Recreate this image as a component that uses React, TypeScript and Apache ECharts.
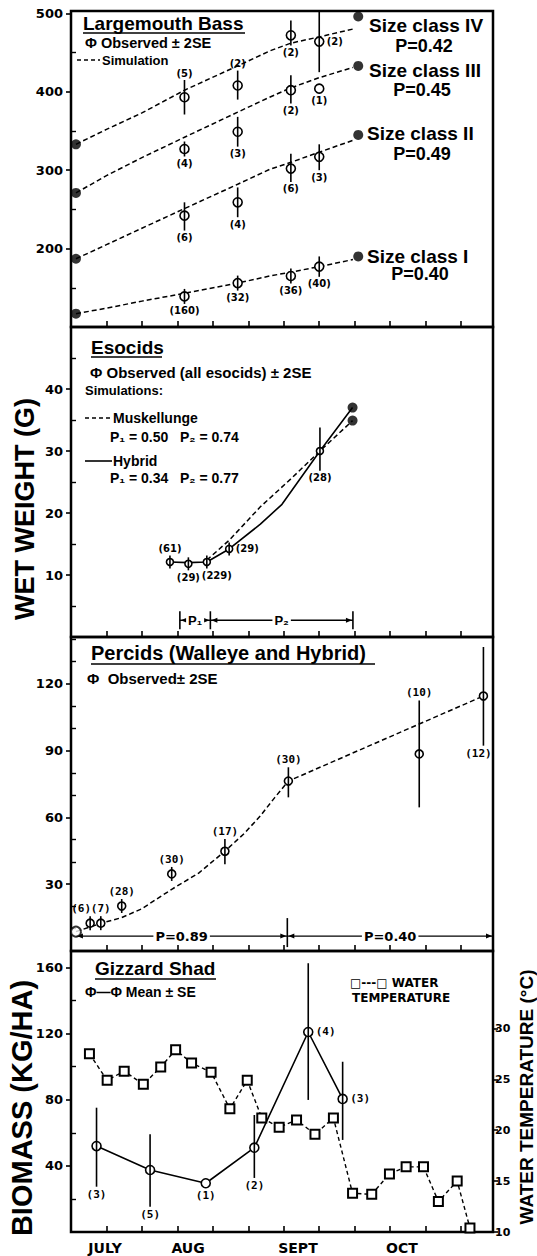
import React, { useEffect, useRef } from 'react';
import * as echarts from 'echarts';

// ---------- shared x axis (days from late June) ----------
const dayTicks = [10, 20, 30, 40, 50, 60, 70, 80, 90, 100, 110];
const monthPositions = [9.6, 33, 64, 93.3];
const monthLabels = ['JULY', 'AUG', 'SEPT', 'OCT'];

// ---------- Panel 1: Largemouth Bass ----------
const bassTicks = [200, 300, 400, 500];
const bassMinorTicks = [150, 250, 350, 450];
const bassDays = [32, 47, 62, 70];
const bassIVMean = [393, 408, 472, 464];
const bassIVLow = [371, 390, 459, 425];
const bassIVHigh = [415, 427, 491, 503];
const bassIVN = ['(5)', '(2)', '(2)', '(2)'];
const bassIIIMean = [327, 349, 402, 404];
const bassIIILow = [321, 330, 385, null];
const bassIIIHigh = [333, 368, 421, null];
const bassIIIN = ['(4)', '(3)', '(2)', '(1)'];
const bassIIMean = [242, 259, 302, 317];
const bassIILow = [223, 240, 285, 300];
const bassIIHigh = [259, 278, 321, 333];
const bassIIN = ['(6)', '(4)', '(6)', '(3)'];
const bassIMean = [139, 156, 165, 177];
const bassILow = [136, 149, 158, 164];
const bassIHigh = [142, 163, 172, 190];
const bassIN = ['(160)', '(32)', '(36)', '(40)'];

const simDays = [1.4, 10, 20, 32, 47, 56, 62, 70, 79.5];
const simIV = [333, 352, 373, 402, 433, 452, 462, 470, 480];
const simIII = [271, 293, 316, 342, 374, 393, 405, 418, 431];
const simII = [187, 205, 226, 251, 282, 301, 310, 323, 338];
const simI = [117, 124, 133, 143, 156, 165, 170, 177, 186];
const simEndDay = 81;
const simEnd = [496, 433, 345, 190];
const sizeClassNames = ['Size class IV', 'Size class III', 'Size class II', 'Size class I'];
const sizeClassP = ['P=0.42', 'P=0.45', 'P=0.49', 'P=0.40'];

// ---------- Panel 2: Esocids ----------
const esoTicks = [10, 20, 30, 40];
const esoMinorTicks = [5, 15, 25, 35, 45];
const esoDays = [27.9, 33.1, 38.3, 44.6, 70.2];
const esoMean = [12.1, 11.8, 12.1, 14.2, 30.0];
const esoLow = [11.4, 11.0, 11.5, 13.5, 26.8];
const esoHigh = [12.8, 12.6, 12.7, 14.9, 33.8];
const esoN = ['(61)', '(29)', '(229)', '(29)', '(28)'];
const hybridDays = [28, 33, 38.3, 44.6, 53.4, 59.5, 70.2, 79.4];
const hybridSim = [12.1, 12.0, 12.1, 14.2, 18.2, 21.4, 30.0, 37.0];
const muskyDays = [38.3, 44.6, 53.4, 62, 70.2, 79.4];
const muskySim = [12.4, 15.6, 21.0, 25.5, 30.0, 34.9];
const esoPeriods = [30.7, 39.3, 79.5];
const esoPeriodLabels = ['P₁', 'P₂'];
const esoPeriodLevel = 2.7;

// ---------- Panel 3: Percids ----------
const percTicks = [30, 60, 90, 120];
const percMinorTicks = [10, 20, 40, 50, 70, 80, 100, 110, 130, 140];
const percDays = [5.4, 8.4, 14.3, 28.4, 43.4, 61.3, 98.2, 116.3];
const percMean = [12.5, 12.5, 20.2, 34.6, 44.8, 76.3, 88.5, 114.5];
const percLow = [11, 11, 19, 33.5, 39, 69, 64.5, 92.2];
const percHigh = [14, 14, 21.5, 35.7, 50.3, 82.5, 112.5, 136.5];
const percN = ['(6)', '(7)', '(28)', '(30)', '(17)', '(30)', '(10)', '(12)'];
const percSimDays = [1.4, 8.4, 14.3, 20, 28.4, 36, 43.4, 49, 53.4, 57.5, 61.3, 116.3];
const percSim = [8.7, 12.4, 15, 19, 27.7, 35, 44.8, 53, 60.7, 69, 76.3, 114.5];
const percPeriods = [1.4, 61.0, 119];
const percPeriodLabels = ['P=0.89', 'P=0.40'];
const percPeriodLevel = 6.7;

// ---------- Panel 4: Gizzard Shad ----------
const shadTicks = [40, 80, 120, 160];
const shadMinorTicks = [20, 60, 100, 140];
const tempTicks = [10, 15, 20, 25, 30];
const shadDays = [7.2, 22.3, 38.0, 51.7, 66.9, 76.6];
const shadMean = [52, 37.5, 29.5, 51, 121, 80.5];
const shadLow = [27.4, 15.3, null, 32.7, 79.9, 55.7];
const shadHigh = [75.2, 59.1, null, 70.8, 162.6, 103];
const shadN = ['(3)', '(5)', '(1)', '(2)', '(4)', '(3)'];
const tempDays = [5.2, 10.2, 15.0, 20.4, 25.3, 29.5, 34.0, 39.5, 44.8, 49.7, 53.8, 58.7, 63.6, 68.8, 74.0, 79.4, 84.8, 89.8, 94.5, 99.4, 103.6, 108.9, 112.5];
const tempC = [27.5, 24.9, 25.8, 24.5, 26.2, 27.9, 26.6, 25.7, 22.1, 24.9, 21.2, 20.3, 21.0, 19.6, 21.2, 13.8, 13.7, 15.7, 16.4, 16.4, 13.0, 15.0, 10.4];

// ---------- helpers ----------
const SANS = '"Liberation Sans", Arial, "DejaVu Sans", sans-serif';
const DV = '"DejaVu Sans", sans-serif';
const MONO = '"DejaVu Sans Mono", monospace';

const zip = (xs: number[], ys: number[]) => xs.map((x, i) => [x, ys[i]]);

function glyphs(xi: number, yi: number, days: number[], mean: number[], low: (number | null)[], high: (number | null)[], counts: string[], places: string[], r: number, countFont: string) {
  const data = days.map((d, i) => [d, mean[i], low[i] ?? mean[i], high[i] ?? mean[i], low[i] == null ? 0 : 1]);
  return {
    type: 'custom', xAxisIndex: xi, yAxisIndex: yi, z: 6, data,
    renderItem: (params: any, api: any) => {
      const i = params.dataIndex;
      const p = api.coord([api.value(0), api.value(1)]);
      const lo = api.coord([api.value(0), api.value(2)]);
      const hi = api.coord([api.value(0), api.value(3)]);
      const hasBar = api.value(4) === 1;
      const yTop = hasBar ? Math.min(hi[1], p[1] - r - 3) : p[1] - r;
      const yBot = hasBar ? Math.max(lo[1], p[1] + r + 3) : p[1] + r;
      const children: any[] = [
        { type: 'circle', shape: { cx: p[0], cy: p[1], r }, style: { fill: '#fff', stroke: '#000', lineWidth: 1.6 } },
      ];
      if (hasBar) children.push({ type: 'line', shape: { x1: p[0], y1: yTop, x2: p[0], y2: yBot }, style: { stroke: '#000', lineWidth: 1.6 } });
      const pl = places[i];
      let tx = p[0], ty = p[1], align = 'center', va = 'middle';
      if (pl === 'a' || pl === 'al') { ty = yTop - 2; va = 'bottom'; if (pl === 'al') tx -= 9; }
      else if (pl === 'b' || pl === 'bl' || pl === 'br') { ty = yBot + 2; va = 'top'; if (pl === 'bl') tx -= 5; if (pl === 'br') tx += 10; }
      else if (pl === 'r') { tx = p[0] + r + 3; align = 'left'; }
      children.push({ type: 'text', x: tx, y: ty, style: { text: counts[i], align, verticalAlign: va, textAlign: align, textVerticalAlign: va, font: countFont, fill: '#000' } });
      return { type: 'group', children };
    },
  };
}

function brackets(xi: number, yi: number, bounds: number[], level: number, labels: string[], font: string) {
  const data = labels.map((_, i) => [bounds[i], bounds[i + 1], level]);
  return {
    type: 'custom', xAxisIndex: xi, yAxisIndex: yi, z: 4, data,
    renderItem: (params: any, api: any) => {
      const a = api.coord([api.value(0), api.value(2)]);
      const b = api.coord([api.value(1), api.value(2)]);
      const y = a[1];
      const mid = (a[0] + b[0]) / 2;
      return {
        type: 'group', children: [
          { type: 'line', shape: { x1: a[0], y1: y, x2: b[0], y2: y }, style: { stroke: '#000', lineWidth: 1.4 } },
          { type: 'polygon', shape: { points: [[a[0] + 1, y], [a[0] + 7, y - 2.5], [a[0] + 7, y + 2.5]] }, style: { fill: '#000' } },
          { type: 'polygon', shape: { points: [[b[0] - 1, y], [b[0] - 7, y - 2.5], [b[0] - 7, y + 2.5]] }, style: { fill: '#000' } },
          { type: 'text', x: mid, y, style: { text: labels[params.dataIndex], align: 'center', verticalAlign: 'middle', textAlign: 'center', textVerticalAlign: 'middle', font, fill: '#000', backgroundColor: '#fff', padding: [0, 2] } },
        ],
      };
    },
  };
}

function bracketTicks(xi: number, yi: number, days: number[], level: number, up: number, down: number) {
  return {
    type: 'custom', xAxisIndex: xi, yAxisIndex: yi, z: 4, data: days.map((d) => [d, level]),
    renderItem: (params: any, api: any) => {
      const p = api.coord([api.value(0), api.value(1)]);
      return { type: 'line', shape: { x1: p[0], y1: p[1] - up, x2: p[0], y2: p[1] + down }, style: { stroke: '#000', lineWidth: 1.6 } };
    },
  };
}

function yMain(gridIndex: number, min: number, max: number, ticks: number[], position = 'left', fontSize = 13, margin = 8) {
  return {
    type: 'value', gridIndex, min, max, position,
    axisLine: { show: false }, splitLine: { show: false },
    axisTick: { show: true, inside: false, length: 5, customValues: ticks, lineStyle: { color: '#000', width: 1.6 } },
    axisLabel: { show: true, customValues: ticks, margin, color: '#000', fontFamily: DV, fontWeight: 'bold', fontSize },
  };
}
function yMinor(gridIndex: number, min: number, max: number, ticks: number[]) {
  return {
    type: 'value', gridIndex, min, max, position: 'left',
    axisLine: { show: false }, splitLine: { show: false }, axisLabel: { show: false },
    axisTick: { show: true, inside: true, length: 5, customValues: ticks, lineStyle: { color: '#000', width: 1.4 } },
  };
}
function xAx(gridIndex: number, labels: boolean) {
  return {
    type: 'value', gridIndex, min: 0, max: 119, position: 'bottom',
    axisLine: { show: false }, splitLine: { show: false },
    axisTick: { show: true, inside: true, length: 6, customValues: dayTicks, lineStyle: { color: '#000', width: 1.6 } },
    axisLabel: labels ? {
      show: true, customValues: monthPositions, margin: 9, color: '#000', fontFamily: DV, fontWeight: 'bold', fontSize: 14,
      formatter: (v: number) => {
        let best = 0;
        monthPositions.forEach((m, i) => { if (Math.abs(m - v) < Math.abs(monthPositions[best] - v)) best = i; });
        return monthLabels[best];
      },
    } : { show: false },
  };
}

function T(text: string, x: number, y: number, size: number, opts: any = {}) {
  const align = opts.align || 'left';
  return {
    type: 'text', x, y, rotation: opts.rot || 0, z: 20,
    style: { text, font: `bold ${size}px ${opts.family || SANS}`, fill: '#000', textAlign: align, textVerticalAlign: 'middle', align, verticalAlign: 'middle' },
  };
}
function Lg(x1: number, y1: number, x2: number, y2: number, dash?: number[]) {
  return { type: 'line', z: 20, shape: { x1, y1, x2, y2 }, style: { stroke: '#000', lineWidth: 1.6, lineDash: dash } };
}

const dashed = { type: [5, 3], width: 1.5, color: '#000' };
const solid = { type: 'solid', width: 1.6, color: '#000' };

export default function App() {
  const ref = useRef<HTMLDivElement>(null);
  useEffect(() => {
    if (!ref.current) return;
    const chart = echarts.init(ref.current, undefined, { renderer: 'svg' });
    const gridBase = { left: 71, width: 422, show: true, borderColor: '#000', borderWidth: 2.5, backgroundColor: 'transparent', containLabel: false };
    const sims = [simIV, simIII, simII, simI];
    const option: any = {
      animation: false,
      backgroundColor: '#fff',
      grid: [
        { ...gridBase, top: 11, height: 316 },
        { ...gridBase, top: 327, height: 310 },
        { ...gridBase, top: 637, height: 314 },
        { ...gridBase, top: 951, height: 281 },
      ],
      xAxis: [xAx(0, false), xAx(1, false), xAx(2, false), xAx(3, true)],
      yAxis: [
        yMain(0, 100, 503, bassTicks),
        yMain(1, 0, 50, esoTicks),
        yMain(2, 0, 141, percTicks),
        yMain(3, 0, 170, shadTicks),
        yMain(3, 10, 37.6, tempTicks, 'right', 11, 2),
        yMinor(0, 100, 503, bassMinorTicks),
        yMinor(1, 0, 50, esoMinorTicks),
        yMinor(2, 0, 141, percMinorTicks),
        yMinor(3, 0, 170, shadMinorTicks),
      ],
      series: [
        // Panel 1 simulations
        ...sims.map((s) => ({ type: 'line', xAxisIndex: 0, yAxisIndex: 0, data: zip(simDays, s), symbol: 'none', lineStyle: dashed, z: 3 })),
        { type: 'scatter', xAxisIndex: 0, yAxisIndex: 0, symbol: 'circle', symbolSize: 10, itemStyle: { color: '#000' }, data: sims.map((s) => [simDays[0], s[0]]), z: 4 },
        { type: 'scatter', xAxisIndex: 0, yAxisIndex: 0, symbol: 'circle', symbolSize: 10, itemStyle: { color: '#000' }, data: simEnd.map((v) => [simEndDay, v]), z: 4 },
        glyphs(0, 0, bassDays, bassIVMean, bassIVLow, bassIVHigh, bassIVN, ['a', 'a', 'b', 'r'], 4.5, `bold 10px ${DV}`),
        glyphs(0, 0, bassDays, bassIIIMean, bassIIILow, bassIIIHigh, bassIIIN, ['b', 'b', 'b', 'b'], 4.5, `bold 10px ${DV}`),
        glyphs(0, 0, bassDays, bassIIMean, bassIILow, bassIIHigh, bassIIN, ['b', 'b', 'b', 'b'], 4.5, `bold 10px ${DV}`),
        glyphs(0, 0, bassDays, bassIMean, bassILow, bassIHigh, bassIN, ['b', 'b', 'b', 'b'], 4.5, `bold 10px ${DV}`),
        // Panel 2
        { type: 'line', xAxisIndex: 1, yAxisIndex: 1, data: zip(hybridDays, hybridSim), symbol: 'none', lineStyle: solid, z: 3 },
        { type: 'line', xAxisIndex: 1, yAxisIndex: 1, data: zip(muskyDays, muskySim), symbol: 'none', lineStyle: dashed, z: 3 },
        { type: 'scatter', xAxisIndex: 1, yAxisIndex: 1, symbol: 'circle', symbolSize: 10, itemStyle: { color: '#000' }, data: [[hybridDays[hybridDays.length - 1], hybridSim[hybridSim.length - 1]], [muskyDays[muskyDays.length - 1], muskySim[muskySim.length - 1]]], z: 4 },
        glyphs(1, 1, esoDays, esoMean, esoLow, esoHigh, esoN, ['a', 'b', 'br', 'r', 'b'], 3.5, `bold 10px ${DV}`),
        brackets(1, 1, esoPeriods, esoPeriodLevel, esoPeriodLabels, `bold 13px ${SANS}`),
        bracketTicks(1, 1, esoPeriods, esoPeriodLevel, 9, 9),
        // Panel 3
        { type: 'line', xAxisIndex: 2, yAxisIndex: 2, data: zip(percSimDays, percSim), symbol: 'none', lineStyle: dashed, z: 3 },
        { type: 'scatter', xAxisIndex: 2, yAxisIndex: 2, symbol: 'emptyCircle', symbolSize: 10, itemStyle: { color: '#000', borderWidth: 1.8 }, data: [[percSimDays[0], percSim[0]]], z: 4 },
        glyphs(2, 2, percDays, percMean, percLow, percHigh, percN, ['al', 'a', 'a', 'a', 'a', 'a', 'a', 'bl'], 4, `bold 11px ${MONO}`),
        brackets(2, 2, percPeriods, percPeriodLevel, percPeriodLabels, `bold 13px ${DV}`),
        bracketTicks(2, 2, [percPeriods[1]], percPeriodLevel, 18, 11),
        // Panel 4
        { type: 'line', xAxisIndex: 3, yAxisIndex: 4, data: zip(tempDays, tempC), symbol: 'emptyRect', symbolSize: 9, lineStyle: { type: [4, 3], width: 1.4, color: '#000' }, itemStyle: { color: '#000', borderWidth: 1.6 }, z: 3 },
        { type: 'line', xAxisIndex: 3, yAxisIndex: 3, data: zip(shadDays, shadMean), symbol: 'none', lineStyle: solid, z: 3 },
        glyphs(3, 3, shadDays, shadMean, shadLow, shadHigh, shadN, ['b', 'b', 'b', 'b', 'r', 'r'], 4.5, `bold 11px ${MONO}`),
      ],
      graphic: [
        // Panel 1 texts
        T('Largemouth Bass', 83, 23, 19), Lg(83, 33, 245, 33),
        T('Φ Observed ± 2SE', 85, 43, 14.5),
        Lg(77, 60, 100, 60, [4, 3]), T('Simulation', 102, 60, 13),
        T(sizeClassNames[0], 369, 25, 19), T(sizeClassP[0], 424, 46, 18, { align: 'center' }),
        T(sizeClassNames[1], 369, 70, 19), T(sizeClassP[1], 422, 90, 18, { align: 'center' }),
        T(sizeClassNames[2], 367, 133, 19), T(sizeClassP[2], 422, 154, 18, { align: 'center' }),
        T(sizeClassNames[3], 367, 256, 19), T(sizeClassP[3], 420, 274, 18, { align: 'center' }),
        // Panel 2 texts
        T('Esocids', 91, 347, 19), Lg(91, 357, 162, 357),
        T('Φ Observed (all esocids) ± 2SE', 90, 372, 15),
        T('Simulations:', 85, 390, 13),
        Lg(85, 418, 112, 418, [4, 3]), T('Muskellunge', 113, 418, 14),
        T('P₁ = 0.50   P₂ = 0.74', 110, 437, 14),
        Lg(85, 461, 112, 461), T('Hybrid', 113, 461, 14),
        T('P₁ = 0.34   P₂ = 0.77', 110, 478, 14),
        // Panel 3 texts
        T('Percids (Walleye and Hybrid)', 91, 653, 20), Lg(91, 664, 375, 664),
        T('Φ  Observed± 2SE', 87, 678, 15),
        // Panel 4 texts
        T('Gizzard Shad', 95, 968, 19), Lg(95, 979, 216, 979),
        T('Φ—Φ Mean ± SE', 85, 992, 14),
        T('□---□ WATER', 350, 983, 12, { family: DV }),
        T('TEMPERATURE', 352, 998, 12, { family: DV }),
        // axis titles
        T('WET WEIGHT (G)', 25, 509, 27, { rot: Math.PI / 2, align: 'center' }),
        T('BIOMASS (KG/HA)', 22, 1108, 29, { rot: Math.PI / 2, align: 'center' }),
        T('WATER TEMPERATURE (°C)', 526, 1097, 19, { rot: Math.PI / 2, align: 'center' }),
      ],
    };
    chart.setOption(option);
    return () => chart.dispose();
  }, []);
  return <div ref={ref} style={{ position: 'absolute', left: 0, top: 0, width: 537, height: 1256 }} />;
}
